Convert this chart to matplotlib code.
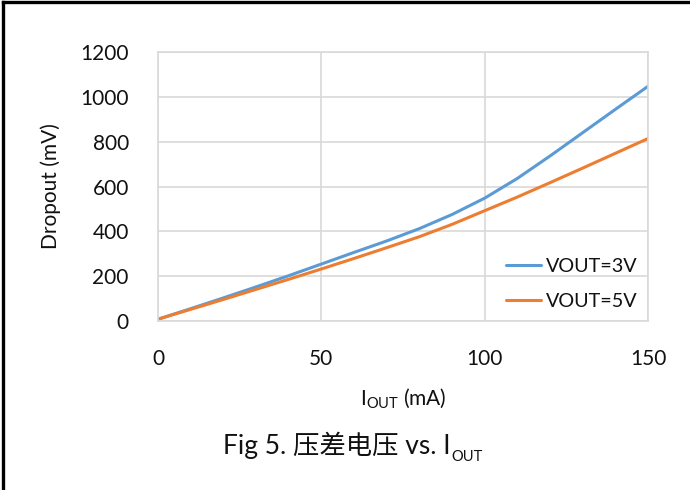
import matplotlib
matplotlib.use("Agg")
import matplotlib.pyplot as plt
from matplotlib.lines import Line2D

plt.rcParams['font.family'] = ['Lato', 'Noto Sans CJK SC', 'DejaVu Sans']
plt.rcParams['mathtext.fontset'] = 'custom'
plt.rcParams['mathtext.rm'] = 'Lato'
plt.rcParams['mathtext.it'] = 'Lato'

# Output current (mA) and dropout voltage (mV)
iout_ma = [0, 10, 20, 30, 40, 50, 60, 70, 80, 90, 100, 110, 120, 130, 140, 150]
dropout_3v = [8, 55, 103, 152, 202, 254, 306, 357, 412, 475, 548, 636, 736, 840, 944, 1047]
dropout_5v = [8, 52, 96, 141, 186, 232, 279, 327, 376, 431, 492, 553, 617, 682, 748, 814]
series_labels = ['VOUT=3V', 'VOUT=5V']
x_ticks = [0, 50, 100, 150]
y_ticks = [0, 200, 400, 600, 800, 1000, 1200]

BLUE = '#5B9BD5'
ORANGE = '#ED7D31'
GRID = '#D9D9D9'
TXT = '#111111'

fig = plt.figure(figsize=(6.9, 4.9), dpi=100)
W, H = 690, 490
ax = fig.add_axes([158 / W, 1 - 321 / H, (648 - 158) / W, (321 - 52) / H])

ax.plot(iout_ma, dropout_3v, color=BLUE, lw=2.2, label=series_labels[0],
        solid_capstyle='round', solid_joinstyle='round')
ax.plot(iout_ma, dropout_5v, color=ORANGE, lw=2.2, label=series_labels[1],
        solid_capstyle='round', solid_joinstyle='round')

ax.set_xlim(0, 150)
ax.set_ylim(0, 1200)
ax.set_xticks(x_ticks)
ax.set_yticks(y_ticks)
ax.grid(True, color=GRID, lw=1.2)
ax.set_axisbelow(True)
for s in ax.spines.values():
    s.set_color(GRID)
    s.set_linewidth(1.2)
ax.tick_params(length=0, labelsize=15, labelcolor=TXT)
ax.tick_params(axis='y', pad=21)
ax.tick_params(axis='x', pad=20)

ax.set_ylabel('Dropout (mV)', fontsize=15, color=TXT, labelpad=14)
ax.set_xlabel(r'I$_{\mathrm{OUT}}$ (mA)', fontsize=15, color=TXT, labelpad=13)

leg = ax.legend(loc='lower right', bbox_to_anchor=(1.0, 0.0), frameon=False,
                fontsize=14.2, handlelength=1.75, handletextpad=0.25,
                labelspacing=0.9, borderaxespad=0.15)
for t in leg.get_texts():
    t.set_color(TXT)

# Caption below the chart
cap = fig.text(337 / W, 1 - 454 / H, 'Fig 5. 压差电压 vs. I', fontsize=19,
               ha='center', va='baseline', color=TXT)
ax.annotate('OUT', xy=(1, 0), xycoords=cap, xytext=(0.5, -1.5),
            textcoords='offset points', fontsize=10.5, color=TXT,
            ha='left', va='baseline', annotation_clip=False)

# Frame edges on the left and top
fig.add_artist(Line2D([3 / W, 3 / W], [0, 1 - 2 / H], transform=fig.transFigure,
                      color='black', lw=2.4))
fig.add_artist(Line2D([3 / W, 1], [1 - 2.5 / H, 1 - 2.5 / H], transform=fig.transFigure,
                      color='black', lw=2.4))

fig.savefig('out.png', dpi=100)
